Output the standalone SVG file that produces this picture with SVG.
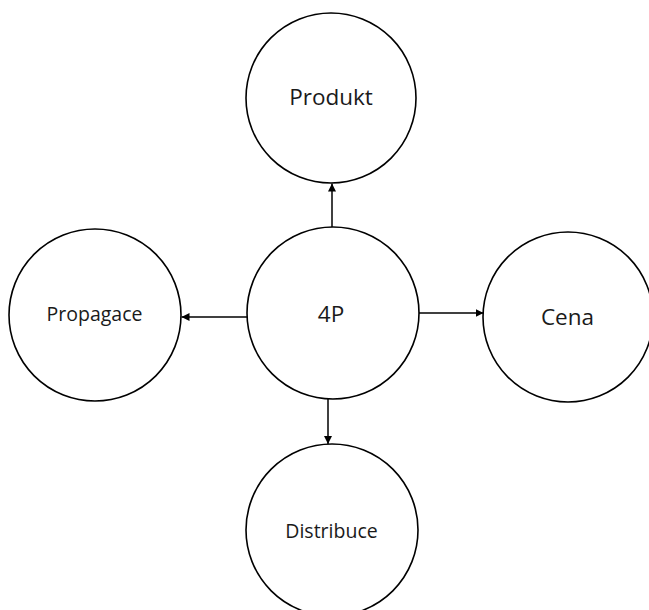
<svg xmlns="http://www.w3.org/2000/svg" width="649" height="610" viewBox="0 0 649 610">
<style>
.node circle{fill:#fff;stroke:#000;stroke-width:1.6}
.lbl{font-family:"Open Sans","Liberation Sans",sans-serif;fill:#1a1a1a;text-anchor:middle}
.big{font-size:22.5px}
.small{font-size:19.5px}
.conn line{stroke:#000;stroke-width:1.5;fill:none}
</style>
<defs>
<marker id="arr" viewBox="0 0 10 10" refX="10" refY="5" markerWidth="8" markerHeight="8" markerUnits="userSpaceOnUse" orient="auto">
<path d="M0,0 L10,5 L0,10 z" fill="#000"/>
</marker>
</defs>
<rect width="649" height="610" fill="#fff"/>
<g id="produkt" class="node"><circle cx="331" cy="98" r="85"/><text class="lbl big" x="331" y="104.5">Produkt</text></g>
<g id="n4p" class="node"><circle cx="333" cy="313" r="86"/><text class="lbl big" x="331" y="321.5">4P</text></g>
<g id="propagace" class="node"><circle cx="95" cy="315" r="86"/><text class="lbl small" x="94.5" y="320.5">Propagace</text></g>
<g id="cena" class="node"><circle cx="568" cy="317" r="85"/><text class="lbl big" x="567.5" y="324.5">Cena</text></g>
<g id="distribuce" class="node"><circle cx="332" cy="530" r="86"/><text class="lbl small" x="331.5" y="538">Distribuce</text></g>
<g id="connectors" class="conn">
<line x1="332" y1="227" x2="332" y2="183.5" marker-end="url(#arr)"/>
<line x1="247" y1="317" x2="181.5" y2="317" marker-end="url(#arr)"/>
<line x1="419" y1="313" x2="483.5" y2="313" marker-end="url(#arr)"/>
<line x1="328" y1="399" x2="328" y2="444" marker-end="url(#arr)"/>
</g>
</svg>
